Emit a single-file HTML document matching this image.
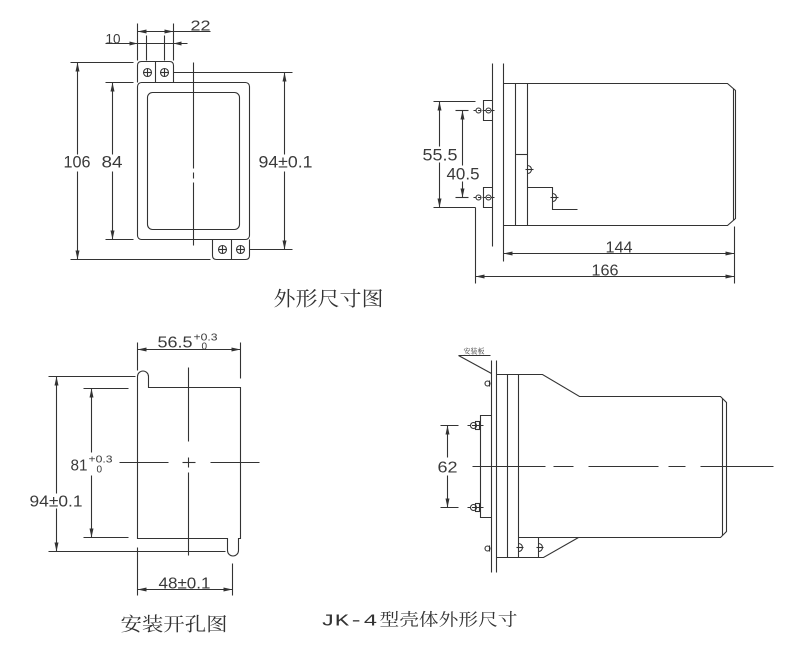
<!DOCTYPE html>
<html><head><meta charset="utf-8"><style>
html,body{margin:0;padding:0;background:#fff;}
svg{display:block;}
.l{stroke:#333;stroke-width:1.1;fill:none;}
.f{fill:#333;stroke:none;}
.t{font-family:"Liberation Sans",sans-serif;fill:#3a3a3a;}
.c{font-family:"Liberation Serif","Noto Serif CJK SC",serif;fill:#333;}
</style></head><body>
<svg width="800" height="659" viewBox="0 0 800 659" xmlns="http://www.w3.org/2000/svg">
<g transform="translate(0.5,0.5)">
<!-- ================= TOP LEFT ================= -->
<g class="l">
  <path d="M137,82 V65 Q137,61 141,61 H169 Q173,61 173,65 V82"/>
  <line x1="155" y1="61" x2="155" y2="82"/>
  <path d="M212,239 V255 Q212,259 216,259 H245 Q249,259 249,255 V239"/>
  <line x1="231" y1="239" x2="231" y2="259"/>
  <circle cx="147" cy="72" r="4"/><line x1="143" y1="72" x2="151" y2="72"/><line x1="147" y1="68" x2="147" y2="76"/>
  <circle cx="164" cy="72" r="4"/><line x1="160" y1="72" x2="168" y2="72"/><line x1="164" y1="68" x2="164" y2="76"/>
  <circle cx="222" cy="249" r="4"/><line x1="218" y1="249" x2="226" y2="249"/><line x1="222" y1="245" x2="222" y2="253"/>
  <circle cx="240" cy="249" r="4"/><line x1="236" y1="249" x2="244" y2="249"/><line x1="240" y1="245" x2="240" y2="253"/>
  <rect x="137" y="82" width="112" height="157" rx="4"/>
  <rect x="147" y="92" width="92" height="137" rx="5"/>
  <line x1="193" y1="62" x2="193" y2="168"/>
  <line x1="193" y1="172" x2="193" y2="178"/>
  <line x1="193" y1="182" x2="193" y2="245"/>
  <line x1="70" y1="62" x2="133" y2="62"/>
  <line x1="70" y1="259" x2="210" y2="259"/>
  <line x1="77" y1="62" x2="77" y2="154"/><line x1="77" y1="171" x2="77" y2="259"/>
  <line x1="105" y1="82" x2="133" y2="82"/>
  <line x1="105" y1="239" x2="133" y2="239"/>
  <line x1="112" y1="82" x2="112" y2="154"/><line x1="112" y1="171" x2="112" y2="239"/>
  <line x1="173" y1="72" x2="292" y2="72"/>
  <line x1="249" y1="249" x2="292" y2="249"/>
  <line x1="284" y1="72" x2="284" y2="154"/><line x1="284" y1="171" x2="284" y2="249"/>
  <line x1="137" y1="23" x2="137" y2="60"/>
  <line x1="146" y1="35" x2="146" y2="60"/>
  <line x1="164" y1="35" x2="164" y2="60"/>
  <line x1="173" y1="23" x2="173" y2="60"/>
  <line x1="137" y1="31" x2="210" y2="31"/>
  <line x1="105" y1="43" x2="187" y2="43"/>
</g>
<g class="f">
  <polygon points="77,62 75,71 79,71"/><polygon points="77,259 75,250 79,250"/>
  <polygon points="112,82 110,91 114,91"/><polygon points="112,239 110,230 114,230"/>
  <polygon points="284,72 282,81 286,81"/><polygon points="284,249 282,240 286,240"/>
  <polygon points="137,31 146,29 146,33"/><polygon points="173,31 164,29 164,33"/>
  <polygon points="137,43 129,41 129,45"/><polygon points="173,43 181,41 181,45"/>
</g>
<text class="t" x="105" y="43" font-size="14" textLength="15" lengthAdjust="spacingAndGlyphs">10</text>
<text class="t" x="190" y="30" font-size="15" textLength="20" lengthAdjust="spacingAndGlyphs">22</text>
<text class="t" x="63" y="167" font-size="17" textLength="27" lengthAdjust="spacingAndGlyphs">106</text>
<text class="t" x="101" y="167" font-size="17" textLength="21" lengthAdjust="spacingAndGlyphs">84</text>
<text class="t" x="258" y="167" font-size="17" textLength="54" lengthAdjust="spacingAndGlyphs">94±0.1</text>
<text class="c" x="273" y="305" font-size="20" textLength="110" lengthAdjust="spacingAndGlyphs" style="font-family:'Noto Serif CJK SC',serif">外形尺寸图</text>

<!-- ================= TOP RIGHT ================= -->
<g class="l">
  <line x1="492" y1="63" x2="492" y2="246"/>
  <line x1="503" y1="63" x2="503" y2="261"/>
  <path d="M503,83 H727 L735,90 V218 L727,225 H503"/>
  <line x1="733" y1="88" x2="733" y2="220"/>
  <line x1="515" y1="83" x2="515" y2="225"/>
  <line x1="527" y1="83" x2="527" y2="225"/>
  <line x1="515" y1="154" x2="527" y2="154"/>
  <path d="M527,165 A4,4 0 0 1 527,173"/><line x1="525" y1="169" x2="533" y2="169"/>
  <path d="M527,187 H552 V209 H577"/>
  <path d="M552,193 A4,4 0 0 1 552,201"/><line x1="550" y1="197" x2="558" y2="197"/>
  <path d="M492,100 H483 V120 H492"/>
  <path d="M492,187 H483 V207 H492"/>
  <line x1="473" y1="110" x2="495" y2="110" stroke-dasharray="3,1.5"/>
  <circle cx="478" cy="110" r="2.5"/><circle cx="488" cy="110" r="2.5"/>
  <line x1="473" y1="197" x2="495" y2="197" stroke-dasharray="3,1.5"/>
  <circle cx="478" cy="197" r="2.5"/><circle cx="488" cy="197" r="2.5"/>
  <line x1="433" y1="101" x2="475" y2="101"/>
  <line x1="433" y1="207" x2="475" y2="207"/>
  <line x1="475" y1="207" x2="475" y2="283"/>
  <line x1="455" y1="110" x2="468" y2="110"/>
  <line x1="455" y1="197" x2="468" y2="197"/>
  <line x1="439" y1="101" x2="439" y2="146"/><line x1="439" y1="162" x2="439" y2="207"/>
  <line x1="462" y1="110" x2="462" y2="165"/><line x1="462" y1="181" x2="462" y2="197"/>
  <line x1="734" y1="226" x2="734" y2="283"/>
  <line x1="503" y1="253" x2="734" y2="253"/>
  <line x1="475" y1="276" x2="734" y2="276"/>
</g>
<g class="f">
  <polygon points="439,101 437,110 441,110"/><polygon points="439,207 437,198 441,198"/>
  <polygon points="462,110 460,119 464,119"/><polygon points="462,197 460,188 464,188"/>
  <polygon points="503,253 512,251 512,255"/><polygon points="734,253 725,251 725,255"/>
  <polygon points="475,276 484,274 484,278"/><polygon points="734,276 725,274 725,278"/>
</g>
<text class="t" x="422" y="160" font-size="17" textLength="35" lengthAdjust="spacingAndGlyphs">55.5</text>
<text class="t" x="446" y="179" font-size="17" textLength="33" lengthAdjust="spacingAndGlyphs">40.5</text>
<text class="t" x="605" y="252" font-size="16" textLength="27" lengthAdjust="spacingAndGlyphs">144</text>
<text class="t" x="591" y="275" font-size="16" textLength="27" lengthAdjust="spacingAndGlyphs">166</text>

<!-- ================= BOTTOM LEFT ================= -->
<g class="l">
  <path d="M137,538 V376 A5.5,5.5 0 0 1 148,376 V387 H240 V538 H238 V550 A5.5,5.5 0 0 1 227,550 V538 Z"/>
  <line x1="137" y1="342" x2="137" y2="370"/>
  <line x1="240" y1="342" x2="240" y2="378"/>
  <line x1="137" y1="349" x2="240" y2="349"/>
  <line x1="188" y1="367" x2="188" y2="441"/>
  <line x1="188" y1="457" x2="188" y2="467"/>
  <line x1="188" y1="472" x2="188" y2="555"/>
  <line x1="119" y1="462" x2="168" y2="462"/>
  <line x1="182" y1="462" x2="195" y2="462"/>
  <line x1="210" y1="462" x2="259" y2="462"/>
  <line x1="48" y1="376" x2="135" y2="376"/>
  <line x1="48" y1="551" x2="225" y2="551"/>
  <line x1="56" y1="376" x2="56" y2="493"/><line x1="56" y1="508" x2="56" y2="551"/>
  <line x1="83" y1="388" x2="128" y2="388"/>
  <line x1="83" y1="537" x2="128" y2="537"/>
  <line x1="91" y1="388" x2="91" y2="452"/><line x1="91" y1="475" x2="91" y2="537"/>
  <line x1="137" y1="547" x2="137" y2="595"/>
  <line x1="232" y1="563" x2="232" y2="595"/>
  <line x1="137" y1="589" x2="232" y2="589"/>
</g>
<g class="f">
  <polygon points="137,349 146,347 146,351"/><polygon points="240,349 231,347 231,351"/>
  <polygon points="56,376 54,385 58,385"/><polygon points="56,551 54,542 58,542"/>
  <polygon points="91,388 89,397 93,397"/><polygon points="91,537 89,528 93,528"/>
  <polygon points="137,589 146,587 146,591"/><polygon points="232,589 223,587 223,591"/>
</g>
<text class="t" x="157" y="347" font-size="16" textLength="35" lengthAdjust="spacingAndGlyphs">56.5</text>
<text class="t" x="193" y="340" font-size="10" textLength="24" lengthAdjust="spacingAndGlyphs">+0.3</text>
<text class="t" x="201" y="349" font-size="10">0</text>
<text class="t" x="70" y="470" font-size="16" textLength="17" lengthAdjust="spacingAndGlyphs">81</text>
<text class="t" x="88" y="462" font-size="10" textLength="24" lengthAdjust="spacingAndGlyphs">+0.3</text>
<text class="t" x="96" y="472" font-size="10">0</text>
<text class="t" x="29" y="506" font-size="16" textLength="53" lengthAdjust="spacingAndGlyphs">94±0.1</text>
<text class="t" x="158" y="588" font-size="16" textLength="52" lengthAdjust="spacingAndGlyphs">48±0.1</text>
<text class="c" x="120" y="630" font-size="19" textLength="107" lengthAdjust="spacingAndGlyphs" style="font-family:'Noto Serif CJK SC',serif">安装开孔图</text>

<!-- ================= BOTTOM RIGHT ================= -->
<g class="l">
  <line x1="458" y1="355" x2="490" y2="355"/>
  <line x1="458" y1="355" x2="491" y2="373"/>
  <line x1="491" y1="360" x2="491" y2="572"/>
  <line x1="496" y1="360" x2="496" y2="572"/>
  <path d="M496,374 H542 L579,396 H720 L726,402 V531 L720,537 H518"/>
  <line x1="722" y1="398" x2="722" y2="535"/>
  <path d="M578,537 L543,557 H496"/>
  <line x1="507" y1="374" x2="507" y2="557"/>
  <line x1="518" y1="374" x2="518" y2="557"/>
  <line x1="538" y1="537" x2="538" y2="557"/>
  <path d="M518,543 A4,4 0 0 1 518,551"/><line x1="516" y1="547" x2="523" y2="547"/>
  <path d="M538,543 A4,4 0 0 1 538,551"/><line x1="536" y1="547" x2="543" y2="547"/>
  <path d="M491,415 H480 V517 H491"/>
  <circle cx="487" cy="383" r="2.5"/><line x1="489" y1="380" x2="489" y2="386"/>
  <circle cx="487" cy="548" r="2.5"/><line x1="489" y1="545" x2="489" y2="551"/>
  <line x1="467" y1="425" x2="483" y2="425" stroke-dasharray="3,1.5"/>
  <circle cx="473" cy="425" r="3"/><rect x="475" y="421" width="4" height="8"/>
  <line x1="467" y1="507" x2="483" y2="507" stroke-dasharray="3,1.5"/>
  <circle cx="473" cy="507" r="3"/><rect x="475" y="503" width="4" height="8"/>
  <line x1="440" y1="425" x2="458" y2="425"/>
  <line x1="440" y1="507" x2="458" y2="507"/>
  <line x1="447" y1="425" x2="447" y2="457"/><line x1="447" y1="475" x2="447" y2="507"/>
  <line x1="472" y1="466" x2="545" y2="466"/>
  <line x1="553" y1="466" x2="573" y2="466"/>
  <line x1="588" y1="466" x2="658" y2="466"/>
  <line x1="668" y1="466" x2="685" y2="466"/>
  <line x1="700" y1="466" x2="773" y2="466"/>
</g>
<g class="f">
  <polygon points="447,425 445,434 449,434"/><polygon points="447,507 445,498 449,498"/>
</g>
<text class="t" x="437" y="472" font-size="16" textLength="20" lengthAdjust="spacingAndGlyphs">62</text>
<text x="463" y="353" font-size="7" fill="#333" style="font-family:'Noto Serif CJK SC',serif">安装板</text>
<text x="320" y="625" font-size="17" fill="#333" textLength="57" lengthAdjust="spacingAndGlyphs" style="font-family:'Liberation Mono',monospace">JK-4</text>
<text x="379" y="625" font-size="17" fill="#333" textLength="138" lengthAdjust="spacingAndGlyphs" style="font-family:'Noto Serif CJK SC',serif">型壳体外形尺寸</text>
</g>
</svg>
</body></html>
